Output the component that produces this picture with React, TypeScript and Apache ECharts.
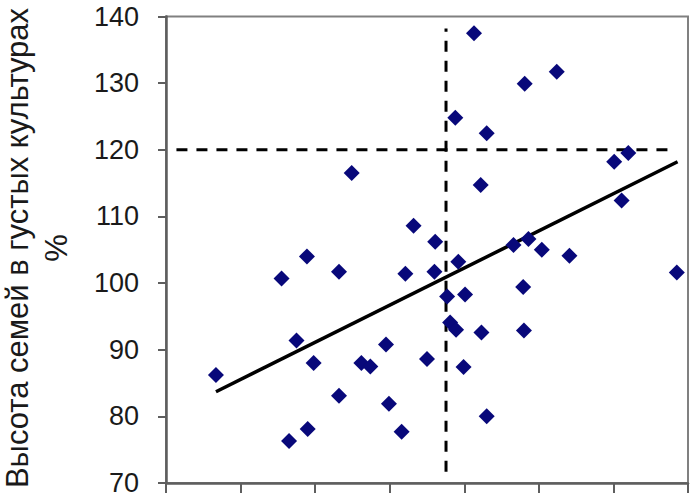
import React, { useEffect, useRef } from "react";
import * as echarts from "echarts";

// Height in sparse cultures (x, %) and in dense cultures (y, %)
const xValues: number[] = [
  111.3, 122.4, 118.1, 108.8, 113.0, 132.0, 130.1, 94.9, 112.2, 131.1,
  103.2, 106.1, 118.6, 116.6, 120.4, 124.1, 109.2, 88.9, 138.5, 85.5,
  93.2, 102.1, 106.0, 117.9, 107.7, 110.1, 108.1, 108.9, 112.3, 118.0,
  87.5, 99.5, 89.8, 96.2, 97.4, 105.0, 109.9, 76.7, 93.2, 99.9,
  113.0, 101.6, 89.0, 86.5,
];
const yValues: number[] = [
  137.5, 131.7, 129.9, 124.8, 122.5, 119.5, 118.2, 116.5, 114.7, 112.4,
  108.6, 106.2, 106.6, 105.7, 105.0, 104.1, 103.2, 104.0, 101.6, 100.7,
  101.7, 101.4, 101.7, 99.4, 98.0, 98.3, 94.1, 93.0, 92.6, 92.9,
  91.4, 90.8, 88.0, 88.0, 87.5, 88.6, 87.4, 86.2, 83.1, 81.9,
  80.0, 77.7, 78.1, 76.3,
];
// Trend line end points
const trendX: number[] = [76.7, 138.6];
const trendY: number[] = [83.7, 118.2];
// Reference (dashed) lines
const hLineX: number[] = [71.4, 137.6];
const hLineY: number = 120;
const vLineX: number = 107.55;
const vLineY: number[] = [71.7, 138.2];
// Axes
const yMin = 70;
const yMax = 140;
const yStep = 10;
const xMin = 70;
const xMax = 140;
const xStep = 10;
const yTitle = "Высота семей в густых культурах\n%";

export default function App() {
  const ref = useRef<HTMLDivElement>(null);
  useEffect(() => {
    if (!ref.current) return;
    const chart = echarts.init(ref.current, undefined, { renderer: "svg" });
    const points = xValues.map((x, i) => [x, yValues[i]]);
    const dash = { type: [11, 9] as any, width: 3, color: "#000" };
    chart.setOption({
      animation: false,
      backgroundColor: "#fff",
      grid: {
        left: 166,
        right: 8,
        top: 16.5,
        bottom: 15,
        show: true,
        borderColor: "#808080",
        borderWidth: 2,
        backgroundColor: "#fff",
      },
      xAxis: {
        type: "value",
        min: xMin,
        max: xMax,
        interval: xStep,
        axisLine: { show: true, lineStyle: { color: "#5e5e5e", width: 2.5 } },
        axisTick: { show: true, length: 10, lineStyle: { color: "#5e5e5e", width: 2 } },
        axisLabel: { show: false },
        splitLine: { show: false },
      },
      yAxis: {
        type: "value",
        min: yMin,
        max: yMax,
        interval: yStep,
        axisLine: { show: true, lineStyle: { color: "#5e5e5e", width: 2.5 } },
        axisTick: { show: true, length: 8, lineStyle: { color: "#5e5e5e", width: 2 } },
        axisLabel: {
          margin: 27,
          fontSize: 27,
          fontFamily: "Liberation Sans, Arial, sans-serif",
          color: "#1a1a1a",
        },
        splitLine: { show: false },
      },
      graphic: [
        {
          type: "text",
          x: 37,
          y: 248,
          rotation: Math.PI / 2,
          style: {
            text: yTitle,
            align: "center",
            verticalAlign: "middle",
            fontSize: 31,
            lineHeight: 39,
            fontFamily: "Liberation Sans, Arial, sans-serif",
            fill: "#1a1a1a",
          },
        },
      ],
      series: [
        {
          type: "line",
          data: hLineX.map((x) => [x, hLineY]),
          symbol: "none",
          lineStyle: dash,
          z: 1,
        },
        {
          type: "line",
          data: vLineY.map((y) => [vLineX, y]),
          symbol: "none",
          lineStyle: dash,
          z: 1,
        },
        {
          type: "line",
          data: trendX.map((x, i) => [x, trendY[i]]),
          symbol: "none",
          lineStyle: { color: "#000", width: 3.5 },
          z: 2,
        },
        {
          type: "scatter",
          data: points,
          symbol: "diamond",
          symbolSize: 16,
          itemStyle: { color: "#08087a", opacity: 1 },
          z: 3,
        },
      ],
    });
    return () => chart.dispose();
  }, []);
  return (
    <div
      ref={ref}
      style={{ position: "fixed", left: 0, top: 0, width: 696, height: 498 }}
    />
  );
}
